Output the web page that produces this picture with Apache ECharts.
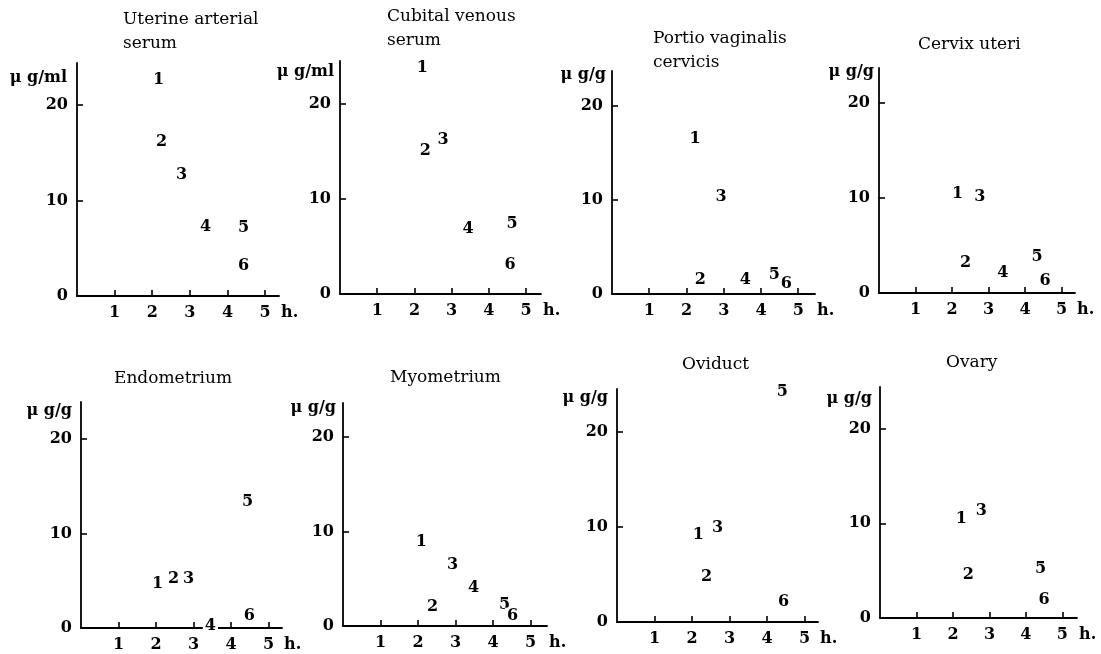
<!DOCTYPE html>
<html>
<head>
<meta charset="utf-8">
<script src="https://cdn.jsdelivr.net/npm/echarts@6/dist/echarts.min.js"></script>
<style>
  html, body { margin: 0; padding: 0; background: #fff; }
  #chart { width: 1101px; height: 654px; }
</style>
</head>
<body>
<div id="chart"></div>
<script>
// patient numbers shown as the marks
const patients = ['1', '2', '3', '4', '5', '6'];
const hourTicks = [1, 2, 3, 4, 5];
const valueTicks = [0, 10, 20];

// hours after dosing / concentration, one pair per tissue
const uterineHours  = [2.17, 2.25, 2.78, 3.42, 4.43, 4.43];
const uterineValues = [22.6, 16.1, 12.7, 7.2, 7.1, 3.2];
const cubitalHours  = [2.21, 2.29, 2.77, 3.44, 4.62, 4.57];
const cubitalValues = [23.8, 15.1, 16.2, 6.9, 7.4, 3.1];
const portioHours   = [2.23, 2.37, 2.93, 3.58, 4.36, 4.68];
const portioValues  = [16.5, 1.5, 10.3, 1.5, 2.0, 1.1];
const cervixHours   = [2.15, 2.37, 2.76, 3.39, 4.33, 4.55];
const cervixValues  = [10.4, 3.2, 10.1, 2.1, 3.8, 1.3];
const endoHours     = [2.04, 2.47, 2.87, 3.45, 4.44, 4.49];
const endoValues    = [4.7, 5.2, 5.2, 0.2, 13.3, 1.3];
const myoHours      = [2.09, 2.39, 2.92, 3.48, 4.31, 4.52];
const myoValues     = [8.9, 2.0, 6.5, 4.0, 2.2, 1.1];
const oviductHours  = [2.17, 2.39, 2.68, null, 4.41, 4.44];
const oviductValues = [9.2, 4.8, 9.9, null, 24.2, 2.1];
const ovaryHours    = [2.23, 2.42, 2.78, null, 4.40, 4.50];
const ovaryValues   = [10.5, 4.6, 11.3, null, 5.2, 1.9];

const panels = [
  { title: 'Uterine arterial\nserum', unit: 'μ g/ml', hours: uterineHours, values: uterineValues,
    tl: 123, tt: 8, left: 77, top: 63, width: 202, height: 233, xmax: 5.37, ymax: 24.4, udy: 15, udx: 10 },
  { title: 'Cubital venous\nserum', unit: 'μ g/ml', hours: cubitalHours, values: cubitalValues,
    tl: 387, tt: 5, left: 340, top: 61, width: 201, height: 233, xmax: 5.40, ymax: 24.5, udy: 11, udx: 6 },
  { title: 'Portio vaginalis\ncervicis', unit: 'μ g/g', hours: portioHours, values: portioValues,
    tl: 653, tt: 27, left: 612, top: 71, width: 203, height: 223, xmax: 5.45, ymax: 23.7, udy: 4, udx: 6 },
  { title: 'Cervix uteri', unit: 'μ g/g', hours: cervixHours, values: cervixValues,
    tl: 918, tt: 33, left: 879, top: 68, width: 196, height: 225, xmax: 5.37, ymax: 23.7, udy: 4, udx: 5 },
  { title: 'Endometrium', unit: 'μ g/g', hours: endoHours, values: endoValues,
    tl: 114, tt: 367, left: 81, top: 402, width: 201, height: 226, xmax: 5.36, ymax: 23.9, udy: 9, udx: 9 },
  { title: 'Myometrium', unit: 'μ g/g', hours: myoHours, values: myoValues,
    tl: 390, tt: 366, left: 343, top: 403, width: 204, height: 223, xmax: 5.44, ymax: 23.6, udy: 5, udx: 7 },
  { title: 'Oviduct', unit: 'μ g/g', hours: oviductHours, values: oviductValues,
    tl: 682, tt: 353, left: 617, top: 389, width: 201, height: 233, xmax: 5.36, ymax: 24.5, udy: 9, udx: 9 },
  { title: 'Ovary', unit: 'μ g/g', hours: ovaryHours, values: ovaryValues,
    tl: 946, tt: 351, left: 880, top: 387, width: 197, height: 231, xmax: 5.40, ymax: 24.4, udy: 12, udx: 8 }
];

const font = 'DejaVu Serif';
const ink = '#000';

let myChart = echarts.init(document.getElementById('chart'));

let title = [], grid = [], xAxis = [], yAxis = [], series = [];
panels.forEach((p, i) => {
  title.push({
    text: p.title, left: p.tl, top: p.tt, padding: 0,
    textStyle: { fontFamily: font, fontSize: 17, fontWeight: 'normal', color: ink, lineHeight: 24 }
  });
  grid.push({ left: p.left, top: p.top, width: p.width, height: p.height, containLabel: false });
  xAxis.push({
    type: 'value', gridIndex: i, min: 0, max: p.xmax,
    name: 'h.', nameLocation: 'end', nameGap: 2,
    nameTextStyle: { fontFamily: font, fontSize: 16, fontWeight: 'bold', color: ink, verticalAlign: 'top', align: 'left', padding: [9, 0, 0, 0] },
    splitLine: { show: false },
    axisLine: { lineStyle: { color: ink, width: 1.8 } },
    axisTick: { inside: true, length: 6, lineStyle: { color: ink, width: 1.6 }, customValues: hourTicks },
    axisLabel: { customValues: hourTicks, margin: 9, fontFamily: font, fontSize: 16, fontWeight: 'bold', color: ink }
  });
  yAxis.push({
    type: 'value', gridIndex: i, min: 0, max: p.ymax,
    name: p.unit, nameLocation: 'end', nameGap: -p.udy,
    nameTextStyle: { fontFamily: font, fontSize: 16, fontWeight: 'bold', color: ink, align: 'right', verticalAlign: 'middle', padding: [0, p.udx, 0, 0] },
    splitLine: { show: false },
    axisLine: { lineStyle: { color: ink, width: 1.8 } },
    axisTick: { inside: true, length: 6, lineStyle: { color: ink, width: 1.6 }, customValues: [10, 20] },
    axisLabel: { customValues: valueTicks, margin: 9, fontFamily: font, fontSize: 16, fontWeight: 'bold', color: ink }
  });
  let pts = [];
  p.hours.forEach((h, k) => {
    if (h !== null) pts.push([h, p.values[k], patients[k]]);
  });
  series.push({
    type: 'scatter', xAxisIndex: i, yAxisIndex: i, data: pts,
    symbol: 'circle', symbolSize: 0, itemStyle: { color: '#fff', opacity: 1 }, z: 5,
    label: {
      show: true, position: 'inside', formatter: d => d.data[2],
      fontFamily: font, fontSize: 16, fontWeight: 'bold', color: ink, opacity: 1,
      backgroundColor: '#fff', padding: [0, 2]
    },
    emphasis: { disabled: true }
  });
});

myChart.setOption({
  backgroundColor: '#fff',
  animation: false,
  title: title,
  grid: grid,
  xAxis: xAxis,
  yAxis: yAxis,
  series: series
});
</script>
</body>
</html>
